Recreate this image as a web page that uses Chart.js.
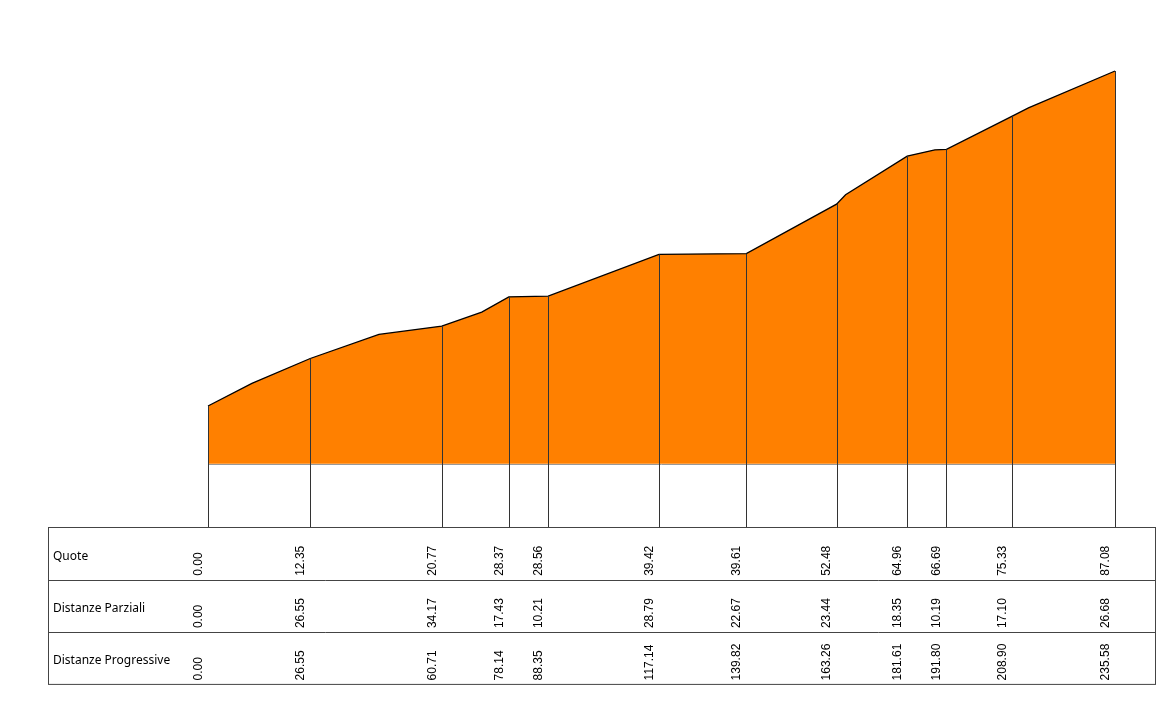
<!DOCTYPE html>
<html>
<head>
<meta charset="utf-8">
<script src="https://cdn.jsdelivr.net/npm/chart.js@4"></script>
<style>
  body { margin: 0; background: #fff; }
  canvas { display: block; }
</style>
</head>
<body>
<canvas id="profile" width="1171" height="701"></canvas>
<script>
/* Stations (sezioni) */
const progressive = [0.00, 26.55, 60.71, 78.14, 88.35, 117.14, 139.82, 163.26, 181.61, 191.80, 208.90, 235.58];
const partial = [0.00, 26.55, 34.17, 17.43, 10.21, 28.79, 22.67, 23.44, 18.35, 10.19, 17.10, 26.68];
const quote = [0.00, 12.35, 20.77, 28.37, 28.56, 39.42, 39.61, 52.48, 64.96, 66.69, 75.33, 87.08];

/* Ground points between stations (no vertical line) */
const extraDist = [11.4, 44.4, 71.1, 165.6, 188.8, 213.1];
const extraQuota = [5.9, 18.6, 24.4, 54.9, 66.6, 77.5];

const rowLabels = ['Quote', 'Distanze Parziali', 'Distanze Progressive'];
const rowValues = [quote, partial, progressive];

const DATUM = -15;
const Y_MIN = -31.45;

/* Build the ground line sorted by distance */
const ground = progressive.map((d, i) => ({ x: d, y: quote[i] }))
    .concat(extraDist.map((d, i) => ({ x: d, y: extraQuota[i] })))
    .sort((a, b) => a.x - b.x);

/* Datum line, vertical lines + table under the chart */
const profileTable = {
    id: 'profileTable',
    afterDatasetsDraw(chart) {
        const { ctx, chartArea, scales } = chart;
        const xs = scales.x, ys = scales.y;
        ctx.save();

        // datum line
        const dy = Math.round(ys.getPixelForValue(DATUM)) + 0.5;
        ctx.strokeStyle = '#999';
        ctx.lineWidth = 1;
        ctx.beginPath();
        ctx.moveTo(xs.getPixelForValue(progressive[0]), dy);
        ctx.lineTo(xs.getPixelForValue(progressive[progressive.length - 1]), dy);
        ctx.stroke();

        // station lines
        ctx.strokeStyle = '#333';
        progressive.forEach((d, i) => {
            const px = Math.round(xs.getPixelForValue(d)) + 0.5;
            ctx.beginPath();
            ctx.moveTo(px, ys.getPixelForValue(quote[i]));
            ctx.lineTo(px, chartArea.bottom);
            ctx.stroke();
        });

        // table
        const left = 48.5, right = 1155.5;
        const top = chartArea.bottom + 0.5;
        const rowH = 52.3;
        ctx.strokeStyle = '#444';
        ctx.strokeRect(left, top, right - left, rowH * 3);
        for (let r = 1; r < 3; r++) {
            const y = Math.round(top + rowH * r) + 0.5;
            ctx.beginPath();
            ctx.moveTo(left, y);
            ctx.lineTo(right, y);
            ctx.stroke();
        }

        ctx.fillStyle = '#000';
        rowLabels.forEach((label, r) => {
            const rowTop = top + rowH * r;
            ctx.font = '12px "Noto Sans", sans-serif';
            ctx.textAlign = 'left';
            ctx.textBaseline = 'alphabetic';
            ctx.fillText(label, 53, rowTop + 32);

            ctx.font = '12px "Liberation Sans", Arial, sans-serif';
            ctx.textBaseline = 'middle';
            rowValues[r].forEach((v, i) => {
                const px = xs.getPixelForValue(progressive[i]) - 9.5;
                ctx.save();
                ctx.translate(px, rowTop + rowH - 4);
                ctx.rotate(-Math.PI / 2);
                ctx.fillText(v.toFixed(2), 0, 0);
                ctx.restore();
            });
        });
        ctx.restore();
    }
};

new Chart(document.getElementById('profile'), {
    type: 'line',
    data: {
        datasets: [
            {
                label: 'Terreno',
                data: ground,
                borderColor: '#000',
                borderWidth: 1.3,
                backgroundColor: '#FF8000',
                pointRadius: 0,
                tension: 0,
                fill: { value: DATUM }
            }
        ]
    },
    options: {
        responsive: false,
        animation: false,
        clip: false,
        layout: { padding: { left: 208, right: 56, top: 71, bottom: 174 } },
        plugins: { legend: { display: false }, tooltip: { enabled: false } },
        scales: {
            x: { type: 'linear', min: 0, max: progressive[progressive.length - 1], display: false },
            y: { type: 'linear', min: Y_MIN, max: 87.08, display: false }
        }
    },
    plugins: [profileTable]
});
</script>
</body>
</html>
